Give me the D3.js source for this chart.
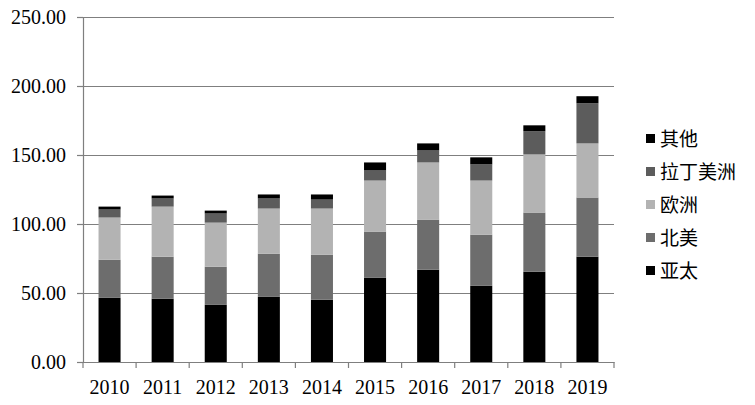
<!DOCTYPE html>
<html>
<head>
<meta charset="utf-8">
<script src="https://cdn.jsdelivr.net/npm/d3@7"></script>
<style>
  body { margin: 0; background: #fff; }
  .axis text { font-family: "Liberation Serif", "Times New Roman", serif; font-size: 20px; fill: #000; }
  .legend text { font-family: "Noto Sans CJK SC", sans-serif; font-size: 19px; fill: #000; }
</style>
</head>
<body>
<div id="chart"></div>
<script>
// data
const years = ["2010", "2011", "2012", "2013", "2014", "2015", "2016", "2017", "2018", "2019"];
const asiaPacific = [46.5, 45.8, 41.4, 47.2, 45.1, 61.0, 66.9, 55.2, 65.4, 76.3];
const northAmerica = [27.6, 30.5, 27.6, 31.3, 32.7, 33.5, 36.3, 37.1, 42.9, 42.9];
const europe = [30.6, 36.3, 32.0, 32.7, 33.4, 37.0, 41.4, 39.2, 42.1, 39.2];
const latinAmerica = [5.8, 5.9, 6.6, 7.3, 6.5, 7.3, 8.7, 11.7, 16.8, 29.1];
const others = [2.1, 2.1, 2.1, 2.9, 3.7, 5.8, 5.1, 5.1, 4.3, 5.1];
const seriesNames = ["亚太", "北美", "欧洲", "拉丁美洲", "其他"];
const yTicks = [0, 50, 100, 150, 200, 250];

const colors = {"亚太": "#000000", "北美": "#6d6d6d", "欧洲": "#b3b3b3", "拉丁美洲": "#5c5c5c", "其他": "#000000"};

const table = years.map(function(y, i) {
    return {year: y, "亚太": asiaPacific[i], "北美": northAmerica[i], "欧洲": europe[i],
            "拉丁美洲": latinAmerica[i], "其他": others[i]};
});

const margin = {top: 17, right: 141, bottom: 43, left: 83};
const width = 755 - margin.left - margin.right;
const height = 405 - margin.top - margin.bottom;

const svg = d3.select("#chart")
    .append("svg")
        .attr("width", 755)
        .attr("height", 405)
    .append("g")
        .attr("transform", `translate(${margin.left}, ${margin.top})`);

// scales
const xScale = d3.scaleBand()
    .domain(years)
    .range([0, width])
    .paddingInner(0.585)
    .paddingOuter(0.2925);

const yScale = d3.scaleLinear()
    .domain([0, 250])
    .range([height, 0]);

// horizontal grid lines
svg.append("g")
    .selectAll("line")
    .data(yTicks.filter(function(d) { return d > 0; }))
    .join("line")
        .attr("x1", 0)
        .attr("x2", width)
        .attr("y1", function(d) { return yScale(d) + 0.5; })
        .attr("y2", function(d) { return yScale(d) + 0.5; })
        .attr("stroke", "#7f7f7f")
        .attr("stroke-width", 1.2);

// stacked bars
const stacked = d3.stack().keys(seriesNames)(table);
svg.append("g")
    .selectAll("g")
    .data(stacked)
    .join("g")
        .attr("fill", function(d) { return colors[d.key]; })
    .selectAll("rect")
    .data(function(d) { return d; })
    .join("rect")
        .attr("x", function(d) { return xScale(d.data.year); })
        .attr("y", function(d) { return yScale(d[1]); })
        .attr("height", function(d) { return yScale(d[0]) - yScale(d[1]); })
        .attr("width", xScale.bandwidth());

// Y axis
svg.append("g")
    .attr("class", "axis")
    .call(d3.axisLeft(yScale).tickValues(yTicks).tickFormat(d3.format(".2f")).tickSize(6).tickPadding(11))
    .call(function(g) { g.selectAll("line, path").attr("stroke", "#7f7f7f").attr("stroke-width", 1.2); });

// X axis: labels centred, ticks at category boundaries
const xAxis = svg.append("g")
    .attr("class", "axis")
    .attr("transform", `translate(0, ${height})`)
    .call(d3.axisBottom(xScale).tickSize(0).tickPadding(18).tickSizeOuter(0))
    .call(function(g) { g.select(".domain").attr("stroke", "#7f7f7f").attr("stroke-width", 1.2); });

xAxis.selectAll(".boundary")
    .data(d3.range(years.length + 1))
    .join("line")
        .attr("class", "boundary")
        .attr("x1", function(i) { return i * xScale.step(); })
        .attr("x2", function(i) { return i * xScale.step(); })
        .attr("y1", 0)
        .attr("y2", 6)
        .attr("stroke", "#7f7f7f")
        .attr("stroke-width", 1.2);

// legend (top entry = top of stack)
const legend = svg.append("g")
    .attr("class", "legend")
    .attr("transform", `translate(${width + 32}, 122)`)
    .selectAll("g")
    .data(seriesNames.slice().reverse())
    .join("g")
        .attr("transform", function(d, i) { return `translate(0, ${i * 33})`; });

legend.append("rect")
    .attr("x", 0)
    .attr("y", -5)
    .attr("width", 9)
    .attr("height", 9)
    .attr("fill", function(d) { return colors[d]; });

legend.append("text")
    .attr("x", 14)
    .attr("y", 0)
    .attr("dy", "0.35em")
    .text(function(d) { return d; });
</script>
</body>
</html>
